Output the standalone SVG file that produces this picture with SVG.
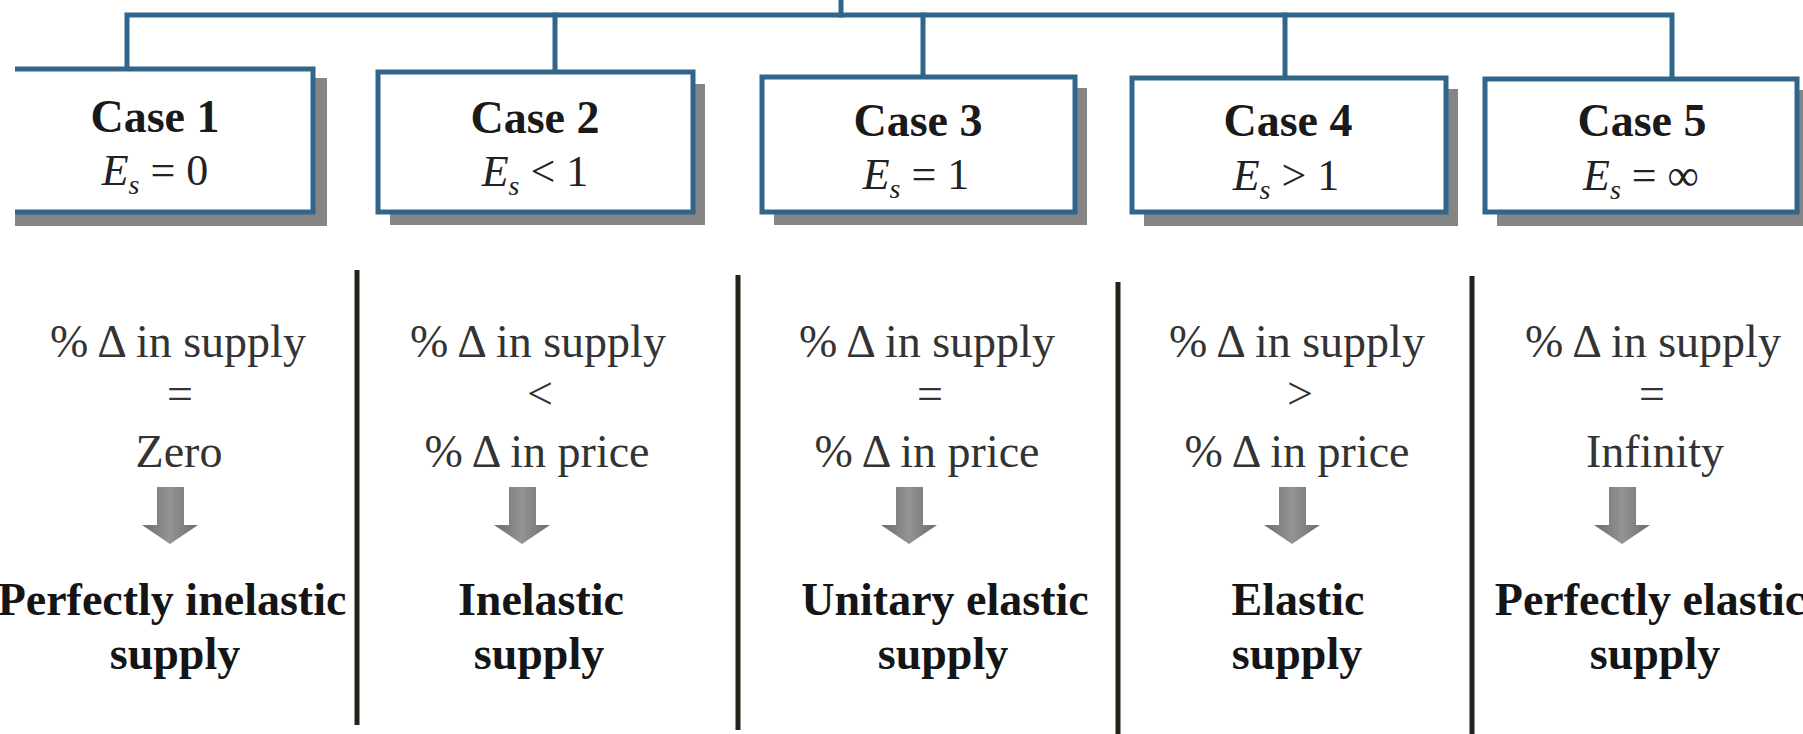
<svg xmlns="http://www.w3.org/2000/svg" width="1803" height="734" viewBox="0 0 1803 734">
<style>
.shadow{fill:#858585;}
.box{fill:#ffffff;stroke:#2f6689;stroke-width:5;}
.conn{fill:none;stroke:#2f6689;stroke-width:5;stroke-linecap:square;}
.div{stroke:#1f2419;stroke-width:5;}
.hd{font-family:"Liberation Serif","Times New Roman",serif;font-weight:bold;font-size:46px;fill:#1a1a1a;text-anchor:middle;}
.es{font-family:"Liberation Serif","Times New Roman",serif;font-size:44px;fill:#222;text-anchor:middle;}
.it{font-style:italic;}
.sub{font-style:italic;font-size:28px;}
.rg{font-family:"Liberation Serif","Times New Roman",serif;font-size:46px;fill:#333;text-anchor:middle;}
.bd{font-family:"Liberation Serif","Times New Roman",serif;font-weight:bold;font-size:46px;fill:#151515;text-anchor:middle;}
.arr{fill:url(#ag);}
</style>
<defs>
<linearGradient id="ag" x1="0" y1="0" x2="1" y2="0">
<stop offset="0" stop-color="#6c6c6c"/>
<stop offset="0.5" stop-color="#949494"/>
<stop offset="1" stop-color="#6c6c6c"/>
</linearGradient>
</defs>
<rect x="0" y="0" width="1803" height="734" fill="#ffffff"/>

<g id="connectors">
<path class="conn" d="M841,0 V15"/>
<path class="conn" d="M127,69 V15 H1672 V79"/>
<path class="conn" d="M555,15 V72"/>
<path class="conn" d="M923,15 V77"/>
<path class="conn" d="M1285,15 V78"/>
</g>

<g id="case1">
<rect class="shadow" x="15" y="78" width="312" height="148"/>
<path class="box" d="M15,69 H313 V212 H15"/>
<text class="hd" x="155" y="132">Case 1</text>
<text class="es" x="155" y="185"><tspan class="it">E</tspan><tspan class="sub" dy="9">s</tspan><tspan dy="-9"> = 0</tspan></text>
</g>

<g id="case2">
<rect class="shadow" x="390" y="84" width="315" height="141"/>
<rect class="box" x="378" y="72" width="315" height="140"/>
<text class="hd" x="535" y="133">Case 2</text>
<text class="es" x="535" y="186"><tspan class="it">E</tspan><tspan class="sub" dy="9">s</tspan><tspan dy="-9"> &lt; 1</tspan></text>
</g>

<g id="case3">
<rect class="shadow" x="774" y="88" width="313" height="137"/>
<rect class="box" x="762" y="77" width="313" height="135"/>
<text class="hd" x="918" y="136">Case 3</text>
<text class="es" x="916" y="189"><tspan class="it">E</tspan><tspan class="sub" dy="9">s</tspan><tspan dy="-9"> = 1</tspan></text>
</g>

<g id="case4">
<rect class="shadow" x="1144" y="89" width="314" height="137"/>
<rect class="box" x="1132" y="78" width="314" height="134"/>
<text class="hd" x="1288" y="136">Case 4</text>
<text class="es" x="1286" y="190"><tspan class="it">E</tspan><tspan class="sub" dy="9">s</tspan><tspan dy="-9"> &gt; 1</tspan></text>
</g>

<g id="case5">
<rect class="shadow" x="1497" y="90" width="312" height="136"/>
<rect class="box" x="1485" y="79" width="312" height="133"/>
<text class="hd" x="1642" y="136">Case 5</text>
<text class="es" x="1641" y="190"><tspan class="it">E</tspan><tspan class="sub" dy="9">s</tspan><tspan dy="-9"> = ∞</tspan></text>
</g>

<g id="dividers">
<line class="div" x1="357" y1="270" x2="357" y2="725"/>
<line class="div" x1="738" y1="275" x2="738" y2="730"/>
<line class="div" x1="1118" y1="282" x2="1118" y2="734"/>
<line class="div" x1="1472" y1="276" x2="1472" y2="734"/>
</g>

<g id="col1">
<text class="rg" x="178" y="357">% Δ in supply</text>
<text class="rg" x="180" y="409">=</text>
<text class="rg" x="179" y="467">Zero</text>
<path class="arr" d="M157,487 H184 V525 H198 L170,544 L142,525 H157 Z"/>
<text class="bd" x="172" y="615">Perfectly inelastic</text>
<text class="bd" x="175" y="669">supply</text>
</g>

<g id="col2">
<text class="rg" x="538" y="357">% Δ in supply</text>
<text class="rg" x="540" y="409">&lt;</text>
<text class="rg" x="537" y="467">% Δ in price</text>
<path class="arr" d="M509,487 H536 V525 H550 L522,544 L494,525 H509 Z"/>
<text class="bd" x="541" y="615">Inelastic</text>
<text class="bd" x="539" y="669">supply</text>
</g>

<g id="col3">
<text class="rg" x="927" y="357">% Δ in supply</text>
<text class="rg" x="930" y="409">=</text>
<text class="rg" x="927" y="467">% Δ in price</text>
<path class="arr" d="M896,487 H923 V525 H937 L909,544 L881,525 H896 Z"/>
<text class="bd" x="945" y="615">Unitary elastic</text>
<text class="bd" x="943" y="669">supply</text>
</g>

<g id="col4">
<text class="rg" x="1297" y="357">% Δ in supply</text>
<text class="rg" x="1300" y="409">&gt;</text>
<text class="rg" x="1297" y="467">% Δ in price</text>
<path class="arr" d="M1279,487 H1306 V525 H1320 L1292,544 L1264,525 H1279 Z"/>
<text class="bd" x="1298" y="615">Elastic</text>
<text class="bd" x="1297" y="669">supply</text>
</g>

<g id="col5">
<text class="rg" x="1653" y="357">% Δ in supply</text>
<text class="rg" x="1652" y="409">=</text>
<text class="rg" x="1655" y="467">Infinity</text>
<path class="arr" d="M1609,487 H1636 V525 H1650 L1622,544 L1594,525 H1609 Z"/>
<text class="bd" x="1650" y="615">Perfectly elastic</text>
<text class="bd" x="1655" y="669">supply</text>
</g>
</svg>
